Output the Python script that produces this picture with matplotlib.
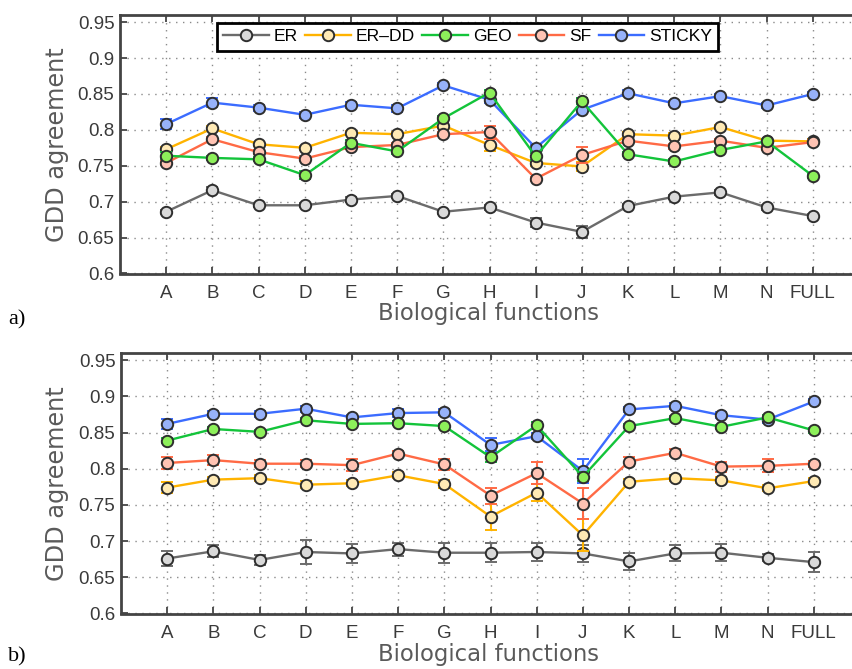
import matplotlib
matplotlib.use("Agg")
import matplotlib.pyplot as plt
from matplotlib.lines import Line2D
import numpy as np

categories = ["A", "B", "C", "D", "E", "F", "G", "H", "I", "J", "K", "L", "M", "N", "FULL"]
series_names = ["ER", "ER\u2013DD", "GEO", "SF", "STICKY"]

# panel a) means
a_ER     = [0.686, 0.716, 0.695, 0.695, 0.703, 0.708, 0.686, 0.692, 0.671, 0.658, 0.694, 0.707, 0.713, 0.692, 0.680]
a_ERDD   = [0.773, 0.802, 0.780, 0.775, 0.796, 0.794, 0.806, 0.779, 0.754, 0.749, 0.794, 0.792, 0.804, 0.785, 0.784]
a_GEO    = [0.764, 0.761, 0.759, 0.737, 0.782, 0.770, 0.816, 0.852, 0.763, 0.840, 0.766, 0.756, 0.772, 0.784, 0.736]
a_SF     = [0.754, 0.787, 0.769, 0.760, 0.776, 0.779, 0.794, 0.797, 0.732, 0.765, 0.785, 0.777, 0.785, 0.775, 0.783]
a_STICKY = [0.808, 0.838, 0.831, 0.821, 0.835, 0.830, 0.862, 0.842, 0.775, 0.828, 0.851, 0.837, 0.847, 0.834, 0.850]

# panel a) error bars
a_ER_err     = [0.003, 0.004, 0.003, 0.003, 0.003, 0.003, 0.003, 0.004, 0.006, 0.008, 0.003, 0.003, 0.003, 0.003, 0.003]
a_ERDD_err   = [0.003, 0.003, 0.003, 0.003, 0.003, 0.003, 0.003, 0.009, 0.004, 0.006, 0.003, 0.003, 0.003, 0.003, 0.003]
a_GEO_err    = [0.005, 0.003, 0.003, 0.006, 0.004, 0.004, 0.004, 0.004, 0.005, 0.004, 0.003, 0.003, 0.003, 0.004, 0.003]
a_SF_err     = [0.003, 0.003, 0.003, 0.003, 0.003, 0.003, 0.003, 0.009, 0.003, 0.011, 0.003, 0.003, 0.003, 0.003, 0.003]
a_STICKY_err = [0.007, 0.006, 0.004, 0.004, 0.004, 0.005, 0.003, 0.005, 0.004, 0.004, 0.004, 0.003, 0.003, 0.004, 0.003]

# panel b) means
b_ER     = [0.676, 0.686, 0.674, 0.685, 0.683, 0.689, 0.684, 0.684, 0.685, 0.683, 0.672, 0.683, 0.684, 0.677, 0.671]
b_ERDD   = [0.774, 0.785, 0.787, 0.778, 0.780, 0.791, 0.779, 0.734, 0.767, 0.708, 0.782, 0.787, 0.784, 0.773, 0.783]
b_GEO    = [0.839, 0.855, 0.851, 0.867, 0.862, 0.863, 0.859, 0.816, 0.860, 0.789, 0.859, 0.870, 0.858, 0.871, 0.853]
b_SF     = [0.808, 0.812, 0.807, 0.807, 0.805, 0.821, 0.806, 0.763, 0.794, 0.752, 0.810, 0.822, 0.803, 0.804, 0.807]
b_STICKY = [0.862, 0.876, 0.876, 0.883, 0.871, 0.877, 0.878, 0.833, 0.845, 0.797, 0.882, 0.887, 0.874, 0.868, 0.893]

# panel b) error bars
b_ER_err     = [0.010, 0.008, 0.007, 0.016, 0.013, 0.009, 0.014, 0.013, 0.013, 0.012, 0.012, 0.011, 0.012, 0.005, 0.014]
b_ERDD_err   = [0.008, 0.004, 0.004, 0.005, 0.004, 0.004, 0.005, 0.018, 0.012, 0.022, 0.004, 0.004, 0.004, 0.004, 0.004]
b_GEO_err    = [0.004, 0.003, 0.003, 0.003, 0.003, 0.003, 0.003, 0.006, 0.005, 0.006, 0.003, 0.003, 0.003, 0.003, 0.003]
b_SF_err     = [0.008, 0.007, 0.005, 0.005, 0.008, 0.004, 0.007, 0.011, 0.015, 0.021, 0.006, 0.005, 0.007, 0.009, 0.004]
b_STICKY_err = [0.007, 0.004, 0.004, 0.004, 0.004, 0.005, 0.004, 0.009, 0.004, 0.017, 0.004, 0.004, 0.004, 0.005, 0.004]

yticks = [0.6, 0.65, 0.7, 0.75, 0.8, 0.85, 0.9, 0.95]
ytick_labels = ["0.6", "0.65", "0.7", "0.75", "0.8", "0.85", "0.9", "0.95"]

line_colors = ["#6b6b6b", "#ffb300", "#13c43a", "#ff6a45", "#3b6cff"]
face_colors = ["#d9d9d9", "#ffeab5", "#8df05a", "#ffc3b3", "#97b2fa"]
zorders = [3, 4, 7, 5, 6]

W, H = 852, 669
fig = plt.figure(figsize=(W / 100, H / 100), dpi=100)

tick_font = {"family": "Liberation Sans", "size": 13.5, "color": "#3a3a3a"}
ylabel_font = dict(family="DejaVu Sans", size=17.3, color="#5a5a5a")
xlabel_font = dict(family="DejaVu Sans", size=16.4, color="#5a5a5a")


def px_axes(left, top, right, bottom):
    return fig.add_axes([left / W, 1 - bottom / H, (right - left) / W, (bottom - top) / H])


def draw_panel(ax, means, errs):
    x = np.arange(1, len(categories) + 1)
    for i, (m, e) in enumerate(zip(means, errs)):
        ax.errorbar(x, m, yerr=e, color=line_colors[i], lw=1.7, elinewidth=1.5,
                    capsize=4.5, capthick=1.5, marker="o", ms=8.2,
                    mfc=face_colors[i], mec="#2e2e2e", mew=1.4,
                    zorder=zorders[i])
    ax.set_xlim(0, 16)
    ax.set_ylim(0.6, 0.96)
    ax.set_xticks(x)
    ax.set_xticklabels(categories, fontdict=tick_font)
    ax.set_yticks(yticks)
    ax.set_yticklabels(ytick_labels, fontdict=tick_font)
    ax.grid(True, linestyle=(0, (1, 4)), color="#8a8a8a", lw=1.0)
    ax.tick_params(direction="in", length=5, width=1.3, color="#444444",
                   top=True, right=True)
    ax.tick_params(axis="x", pad=8)
    ax.tick_params(axis="y", pad=4)
    for s in ax.spines.values():
        s.set_color("#444444")
        s.set_linewidth(2.0)
    ax.set_axisbelow(True)


ax1 = px_axes(120, 15, 859, 273.5)
draw_panel(ax1, [a_ER, a_ERDD, a_GEO, a_SF, a_STICKY],
           [a_ER_err, a_ERDD_err, a_GEO_err, a_SF_err, a_STICKY_err])
ax2 = px_axes(121, 353, 860, 613.5)
draw_panel(ax2, [b_ER, b_ERDD, b_GEO, b_SF, b_STICKY],
           [b_ER_err, b_ERDD_err, b_GEO_err, b_SF_err, b_STICKY_err])

# legend (panel a)
handles = [Line2D([], [], color=line_colors[i], lw=1.7, marker="o", ms=8.2,
                  mfc=face_colors[i], mec="#2e2e2e", mew=1.4)
           for i in range(len(series_names))]
leg = ax1.legend(handles, series_names, loc="upper left", ncol=5,
                 bbox_to_anchor=(217 / W, 1 - 23 / H), bbox_transform=fig.transFigure,
                 borderaxespad=0, frameon=True, fancybox=False,
                 handlelength=2.6, handletextpad=0.3, columnspacing=0.4,
                 borderpad=0.35, prop={"family": "Liberation Sans", "size": 12.6})
leg.get_frame().set_edgecolor("black")
leg.get_frame().set_linewidth(2.0)
leg.get_frame().set_alpha(1)
leg.set_zorder(20)

# axis labels
fig.text(57 / W, 1 - 145 / H, "GDD agreement", rotation=90, ha="center", va="center", **ylabel_font)
fig.text(57 / W, 1 - 484 / H, "GDD agreement", rotation=90, ha="center", va="center", **ylabel_font)
fig.text(489 / W, 1 - 314 / H, "Biological functions", ha="center", va="center", **xlabel_font)
fig.text(489 / W, 1 - 655 / H, "Biological functions", ha="center", va="center", **xlabel_font)

# panel tags
fig.text(8 / W, 1 - 320 / H, "a)", ha="left", va="center", family="Liberation Serif", size=16, color="black")
fig.text(8 / W, 1 - 657 / H, "b)", ha="left", va="center", family="Liberation Serif", size=16, color="black")

fig.savefig("out.png", dpi=100)
